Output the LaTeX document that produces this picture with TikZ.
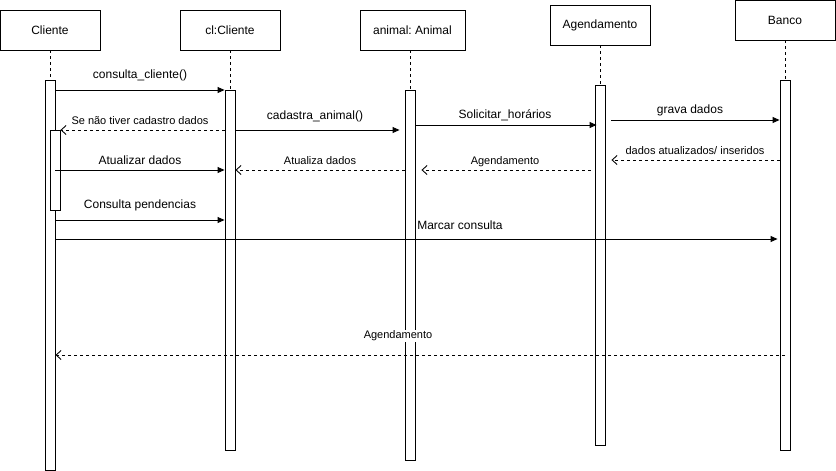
\documentclass[tikz,border=0pt]{standalone}
\usepackage{fontspec}
\setmainfont{Liberation Sans}
\usetikzlibrary{arrows.meta}

\tikzset{
  actor/.style={draw, line width=0.9pt, fill=white, minimum width=100pt, minimum height=40pt, inner sep=0pt, font=\fontsize{12}{14}\selectfont},
  actbar/.style={draw, line width=0.9pt, fill=white, minimum width=10pt, inner sep=0pt, anchor=north},
  lifeline/.style={line width=0.9pt, dash pattern=on 3pt off 3pt},
  callmsg/.style={line width=0.9pt, -{Triangle[length=7pt,width=6pt]}},
  retmsg/.style={line width=0.9pt, dash pattern=on 3pt off 3pt, -{Straight Barb[length=5pt,width=9pt]}},
  biglbl/.style={font=\fontsize{12}{14}\selectfont, inner sep=1pt, fill=white},
  smalllbl/.style={font=\fontsize{11}{13}\selectfont, inner sep=1pt, fill=white}
}

\begin{document}
\frenchspacing
\begin{tikzpicture}[x=1pt, y=-1pt]
  \useasboundingbox (0,0) rectangle (836,471);

  % --- Participants
  \node[actor] (hCli) at (50,30) {Cliente};
  \node[actor] (hCl) at (230,30) {cl:Cliente};
  \node[actor, minimum width=105pt] (hAni) at (412.5,30) {animal: Animal};
  \node[actor] (hAge) at (600,25) {Agendamento};
  \node[actor] (hBan) at (785,20) {Banco};

  % --- Activation bars
  \node[actbar, minimum height=390pt] (cliB) at (50,80) {};
  \node[actbar, minimum height=360pt] (clB) at (230,90) {};
  \node[actbar, minimum height=370pt] (aniB) at (410,90) {};
  \node[actbar, minimum height=360pt] (ageB) at (600,85) {};
  \node[actbar, minimum height=370pt] (banB) at (785,80) {};
  \node[actbar, minimum height=80pt] (cliB2) at (55,130) {};

  % lifelines
  \draw[lifeline] (hCli) -- (cliB);
  \draw[lifeline] (hCl) -- (clB);
  \draw[lifeline] (hAni.south -| aniB.north) -- (aniB);
  \draw[lifeline] (hAge) -- (ageB);
  \draw[lifeline] (hBan) -- (banB);

  % --- Messages
  \draw[callmsg] (cliB.east |- 0,90) -- (clB.west |- 0,90);
  \draw[retmsg] (clB.west |- 0,130) -- (cliB2.east |- 0,130);
  \draw[callmsg] (clB.east |- 0,130) -- ([xshift=-5pt]aniB.west |- 0,130);
  \draw[callmsg] (aniB.east |- 0,125) -- ([xshift=2pt]ageB.west |- 0,125);
  \draw[callmsg] ([xshift=6pt]ageB.east |- 0,120) -- (banB.west |- 0,120);
  \draw[retmsg] (banB.west |- 0,160) -- ([xshift=6pt]ageB.east |- 0,160);
  \draw[retmsg] ([xshift=-4pt]ageB.west |- 0,170) -- ([xshift=6pt]aniB.east |- 0,170);
  \draw[retmsg] (aniB.west |- 0,170) -- (clB.east |- 0,170);
  \draw[callmsg] (cliB.east |- 0,170) -- (clB.west |- 0,170);
  \draw[callmsg] (cliB.east |- 0,220) -- (clB.west |- 0,220);
  \draw[callmsg] (cliB.east |- 0,239) -- ([xshift=-2pt]banB.west |- 0,239);
  \draw[retmsg] (banB.center |- 0,355) -- (cliB.east |- 0,355);

  % --- Message labels
  \node[biglbl] (lConsulta) at (140,75) {consulta\_cliente()};
  \node[smalllbl] (lSeNao) at (140,121) {Se não tiver cadastro dados};
  \node[biglbl] (lCadastra) at (315,116) {cadastra\_animal()};
  \node[biglbl] (lSolicitar) at (505,115) {Solicitar\_horários};
  \node[biglbl] (lGrava) at (690,110) {grava dados};
  \node[smalllbl] (lAtualizados) at (695,151) {dados atualizados/ inseridos};
  \node[smalllbl] (lAgenda) at (505,162) {Agendamento};
  \node[smalllbl] (lAtualiza) at (320,161) {Atualiza dados};
  \node[biglbl] (lAtualizar) at (140,160) {Atualizar dados};
  \node[biglbl] (lPendencias) at (140,205) {Consulta pendencias};
  \node[biglbl] (lMarcar) at (460,225) {Marcar consulta};
  \node[smalllbl] (lAgendaFim) at (398,336) {Agendamento};
\end{tikzpicture}
\end{document}
